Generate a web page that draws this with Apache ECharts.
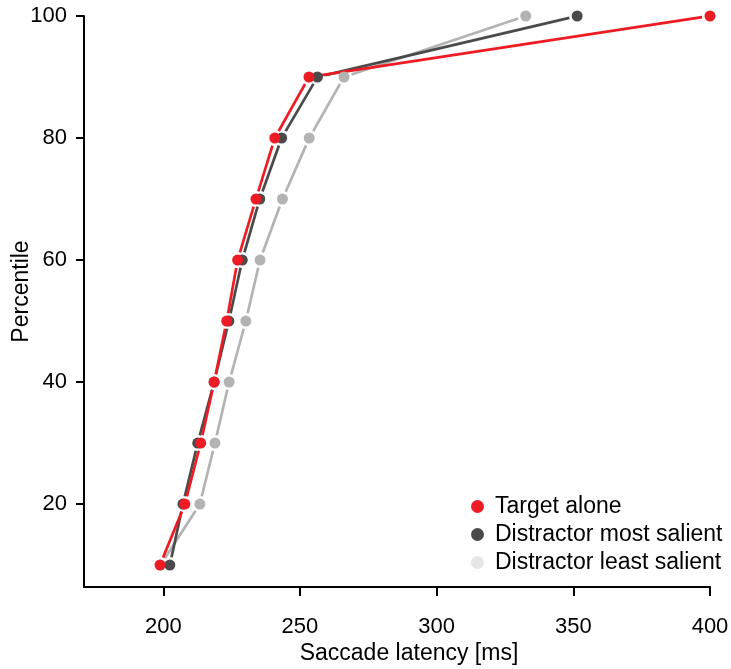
<!DOCTYPE html>
<html>
<head>
<meta charset="utf-8">
<script src="https://cdn.jsdelivr.net/npm/echarts@6/dist/echarts.min.js"></script>
<style>
  html, body { margin: 0; padding: 0; background: #fff; }
  #chart { width: 731px; height: 669px; }
</style>
</head>
<body>
<div id="chart"></div>
<script>
// Cumulative latency distributions (percentile vs. saccade latency)
const percentiles = [10, 20, 30, 40, 50, 60, 70, 80, 90, 100];
const targetAlone = [198.8, 207.9, 213.7, 218.6, 223.2, 227.2, 233.9, 240.8, 253.3, 400.0];
const distractorMost = [202.4, 207.2, 212.6, 218.6, 224.0, 228.9, 235.3, 243.3, 256.4, 351.4];
const distractorLeast = [199.0, 213.4, 218.9, 224.1, 230.2, 235.4, 243.6, 253.4, 266.1, 332.6];

const xTicks = [200, 250, 300, 350, 400];
const yTicks = [20, 40, 60, 80, 100];

const seriesNames = ['Target alone', 'Distractor most salient', 'Distractor least salient'];
const seriesColors = ['#ED1C24', '#4A4A4A', '#B3B3B3'];
const legendColors = ['#ED1C24', '#4A4A4A', '#E5E5E5'];

const FONT = '"Liberation Sans", Arial, sans-serif';
const GAP = 8; // distance between a point and where its connecting segment starts

function segments(xs) {
  const out = [];
  for (let i = 0; i < xs.length - 1; i++) {
    out.push([xs[i], percentiles[i], xs[i + 1], percentiles[i + 1]]);
  }
  return out;
}

function segmentSeries(xs, color) {
  return {
    type: 'custom',
    silent: true,
    clip: false,
    data: segments(xs),
    encode: { x: [0, 2], y: [1, 3] },
    renderItem: function (params, api) {
      const a = api.coord([api.value(0), api.value(1)]);
      const b = api.coord([api.value(2), api.value(3)]);
      const dx = b[0] - a[0], dy = b[1] - a[1];
      const len = Math.sqrt(dx * dx + dy * dy);
      if (len <= 2 * GAP) return null;
      const ux = dx / len, uy = dy / len;
      return {
        type: 'line',
        shape: {
          x1: a[0] + ux * GAP, y1: a[1] + uy * GAP,
          x2: b[0] - ux * GAP, y2: b[1] - uy * GAP
        },
        style: { stroke: color, lineWidth: 2.7, lineCap: 'butt' }
      };
    }
  };
}

function pointSeries(name, xs, color) {
  return {
    name: name,
    type: 'scatter',
    data: xs.map((x, i) => [x, percentiles[i]]),
    symbol: 'circle',
    symbolSize: 11,
    clip: false,
    itemStyle: { color: color, opacity: 1 },
    emphasis: { disabled: true }
  };
}

const allX = [targetAlone, distractorMost, distractorLeast];
const series = [];
// draw least salient first so the red series stays on top
for (let k = 2; k >= 0; k--) {
  series.push(segmentSeries(allX[k], seriesColors[k]));
  series.push(pointSeries(seriesNames[k], allX[k], seriesColors[k]));
}

const chart = echarts.init(document.getElementById('chart'), null, { renderer: 'canvas' });
chart.setOption({
  animation: false,
  backgroundColor: '#fff',
  textStyle: { fontFamily: FONT },
  grid: { left: 84, right: 21, top: 16, bottom: 82, containLabel: false, outerBoundsMode: 'none' },
  legend: {
    orient: 'vertical',
    left: 466,
    top: 490,
    itemWidth: 13,
    itemHeight: 13,
    itemGap: 5,
    icon: 'circle',
    selectedMode: false,
    textStyle: { fontFamily: FONT, fontSize: 23, color: '#000', padding: [0, 0, 0, 6] },
    data: seriesNames.map((n, i) => ({ name: n, itemStyle: { color: legendColors[i] } }))
  },
  xAxis: {
    type: 'value',
    min: 171,
    max: 400,
    name: 'Saccade latency [ms]',
    nameLocation: 'middle',
    nameGap: 55,
    nameMoveOverlap: false,
    nameTextStyle: { fontFamily: FONT, fontSize: 23, color: '#000', padding: [0, 0, 0, 24] },
    splitLine: { show: false },
    axisLine: { show: true, lineStyle: { color: '#000', width: 2 } },
    axisTick: { show: true, length: 9, lineStyle: { color: '#000', width: 2 }, customValues: xTicks },
    axisLabel: { fontFamily: FONT, fontSize: 22, color: '#000', margin: 29, customValues: xTicks }
  },
  yAxis: {
    type: 'value',
    min: 6.4,
    max: 100,
    name: 'Percentile',
    nameLocation: 'middle',
    nameGap: 51,
    nameMoveOverlap: false,
    nameRotate: 90,
    nameTextStyle: { fontFamily: FONT, fontSize: 23, color: '#000', padding: [0, 0, 0, 20] },
    splitLine: { show: false },
    axisLine: { show: true, lineStyle: { color: '#000', width: 2 } },
    axisTick: { show: true, length: 8, lineStyle: { color: '#000', width: 2 }, customValues: yTicks },
    axisLabel: { fontFamily: FONT, fontSize: 22, color: '#000', margin: 17, customValues: yTicks }
  },
  series: series
});
</script>
</body>
</html>
